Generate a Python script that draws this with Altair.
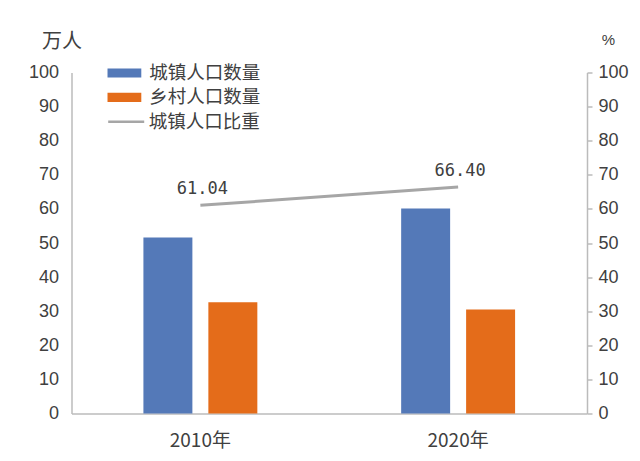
import altair as alt
import pandas as pd

years = ["2010年", "2020年"]
series = ["城镇人口数量", "乡村人口数量"]
urban = [51.6, 60.1]
rural = [32.6, 30.5]
share_name = "城镇人口比重"
urban_share = [61.04, 66.40]
share_labels = ["61.04", "66.40"]
y_ticks = [0, 10, 20, 30, 40, 50, 60, 70, 80, 90, 100]

bar_df = pd.DataFrame({
    "year": years * 2,
    "series": [series[0]] * len(years) + [series[1]] * len(years),
    "value": urban + rural,
})
line_df = pd.DataFrame({
    "year": years,
    "share": urban_share,
    "label": share_labels,
    "series": [share_name] * len(years),
})

AXIS_GRAY = "#BBBBBB"
TEXT = "#404040"
BLUE = "#5479B8"
ORANGE = "#E46C1A"
GRAY = "#A6A6A6"
CJK = "Noto Sans CJK SC"

x_axis = alt.Axis(title=None, labelAngle=0, ticks=False, tickSize=0, labelPadding=18,
                  labelFont=CJK, labelFontSize=19, labelColor=TEXT,
                  domainColor=AXIS_GRAY, domainWidth=1.5, grid=False)
x_scale = alt.Scale(paddingInner=0.558, paddingOuter=0.279)
x_enc = alt.X("year:N", sort=years, scale=x_scale, axis=x_axis)

left_axis = alt.Axis(title="万人", values=y_ticks, orient="left", ticks=False, tickSize=0,
                     labelPadding=13, grid=False, domainColor=AXIS_GRAY, domainWidth=1.5,
                     labelFont="Liberation Sans", labelFontSize=18, labelColor=TEXT,
                     titleAngle=0, titleX=-10, titleY=-31.5, titleAlign="center",
                     titleBaseline="middle", titleFont=CJK, titleFontSize=20,
                     titleFontWeight="normal", titleColor=TEXT)

right_axis = alt.Axis(title="%", values=y_ticks, orient="right", ticks=True, tickSize=5,
                      tickColor=AXIS_GRAY, tickWidth=1.5,
                      labelPadding=6, grid=False, domainColor=AXIS_GRAY, domainWidth=1.5,
                      labelFont="Liberation Sans", labelFontSize=18, labelColor=TEXT,
                      titleAngle=0, titleX=21, titleY=-33, titleAlign="center",
                      titleBaseline="middle", titleFont="Liberation Sans", titleFontSize=15,
                      titleFontWeight="normal", titleColor=TEXT)

bars = alt.Chart(bar_df).mark_bar().encode(
    x=x_enc,
    xOffset=alt.XOffset("series:N", sort=series,
                        scale=alt.Scale(paddingInner=0.246, paddingOuter=0)),
    y=alt.Y("value:Q", scale=alt.Scale(domain=[0, 100], nice=False), axis=left_axis),
    color=alt.Color("series:N", sort=series,
                    scale=alt.Scale(domain=series, range=[BLUE, ORANGE]),
                    legend=alt.Legend(title=None, orient="none", legendX=35.8, legendY=-9,
                                      padding=0, clipHeight=19, rowPadding=5.3,
                                      symbolType="M-1,-0.27L1,-0.27L1,0.27L-1,0.27Z",
                                      symbolSize=1156, symbolStrokeWidth=0,
                                      labelOffset=8, labelFont=CJK, labelFontSize=18.5,
                                      labelColor=TEXT, labelLimit=300)),
)

y_right = alt.Y("share:Q", scale=alt.Scale(domain=[0, 100], nice=False), axis=right_axis)

line = alt.Chart(line_df).mark_line(strokeWidth=3).encode(
    x=x_enc,
    y=y_right,
    stroke=alt.Stroke("series:N",
                      scale=alt.Scale(domain=[share_name], range=[GRAY]),
                      legend=alt.Legend(title=None, orient="none", legendX=35.2, legendY=39.7,
                                        padding=0, clipHeight=19, symbolType="stroke",
                                        symbolSize=1296, symbolStrokeWidth=2.5,
                                        labelOffset=3, labelFont=CJK, labelFontSize=18.5,
                                        labelColor=TEXT, labelLimit=300)),
)

labels = alt.Chart(line_df).mark_text(
    font="DejaVu Sans Mono", fontSize=17, color=TEXT, baseline="alphabetic",
    align="center", dy=-11, dx=2,
).encode(
    x=x_enc,
    y=y_right,
    text="label:N",
)

chart = alt.layer(bars, alt.layer(line, labels)).resolve_scale(
    y="independent"
).properties(
    width=515.5,
    height=341,
    autosize=alt.AutoSizeParams(type="none"),
    padding={"left": 63.5, "top": 64.5, "right": 45, "bottom": 39},
).configure_view(stroke=None)

chart.save("out.html", embed_options={"renderer": "svg", "actions": False})
